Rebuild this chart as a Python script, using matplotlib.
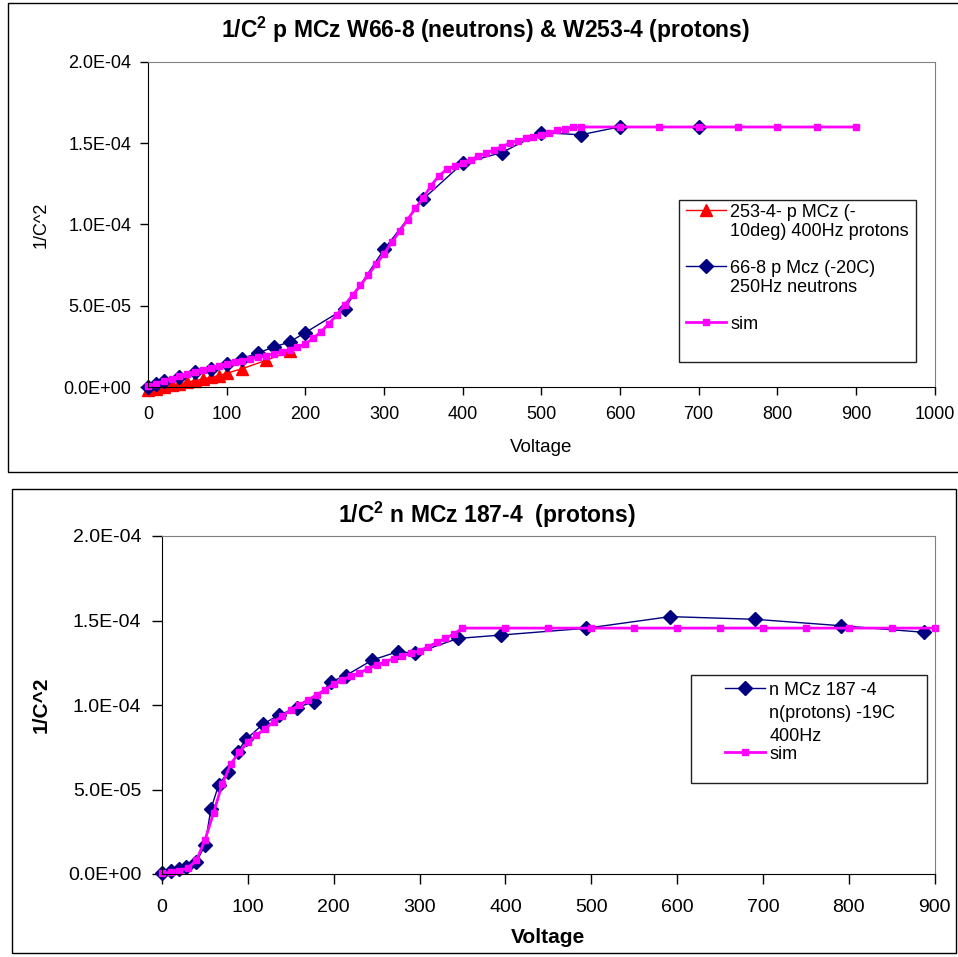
import numpy as np
import matplotlib
matplotlib.use('Agg')
import matplotlib.pyplot as plt
from matplotlib.patches import Rectangle
from matplotlib.offsetbox import HPacker
from matplotlib.ticker import FuncFormatter, MultipleLocator

plt.rcParams['font.family'] = ['Liberation Sans', 'DejaVu Sans']
plt.rcParams['mathtext.fontset'] = 'custom'
plt.rcParams['mathtext.rm'] = 'Liberation Sans'
plt.rcParams['mathtext.bf'] = 'Liberation Sans:bold'

W, H = 958, 957

# ---- top chart: p MCz W66-8 (neutrons) & W253-4 (protons)
prot_v = [0, 10, 20, 30, 40, 50, 60, 70, 80, 90, 100, 120, 150, 180]
prot_c2 = [-2e-6, -1e-6, 0.0, 1e-6, 2e-6, 3e-6, 4e-6, 5e-6, 6e-6, 7e-6,
           8.5e-6, 1.13e-5, 1.64e-5, 2.2e-5]

neut_v = [0, 10, 20, 40, 60, 80, 100, 120, 140, 160, 180, 200, 250, 300,
          350, 400, 450, 500, 550, 600, 700]
neut_c2 = [0.0, 2.1e-6, 3.5e-6, 6.2e-6, 9.2e-6, 1.13e-5, 1.44e-5, 1.75e-5,
           2.1e-5, 2.46e-5, 2.77e-5, 3.35e-5, 4.82e-5, 8.47e-5, 1.157e-4,
           1.377e-4, 1.443e-4, 1.566e-4, 1.552e-4, 1.601e-4, 1.601e-4]

sim1_v = [0, 10, 20, 30, 40, 50, 60, 70, 80, 90, 100, 110, 120, 130, 140,
          150, 160, 170, 180, 190, 200, 210, 220, 230, 240, 250, 260, 270,
          280, 290, 300, 310, 320, 330, 340, 350, 360, 370, 380, 390, 400,
          410, 420, 430, 440, 450, 460, 470, 480, 490, 500, 510, 520, 530,
          540, 550, 600, 650, 700, 750, 800, 850, 900]
sim1_c2 = [0.5e-6, 2.0e-6, 3.5e-6, 5.0e-6, 6.5e-6, 8.0e-6, 9.3e-6, 1.05e-5,
           1.18e-5, 1.31e-5, 1.43e-5, 1.53e-5, 1.63e-5, 1.73e-5, 1.83e-5,
           1.93e-5, 2.04e-5, 2.16e-5, 2.30e-5, 2.45e-5, 2.65e-5, 3.0e-5,
           3.4e-5, 3.9e-5, 4.45e-5, 5.05e-5, 5.65e-5, 6.25e-5, 6.9e-5,
           7.55e-5, 8.2e-5, 8.9e-5, 9.6e-5, 1.03e-4, 1.10e-4, 1.165e-4,
           1.24e-4, 1.30e-4, 1.34e-4, 1.36e-4, 1.38e-4, 1.40e-4, 1.42e-4,
           1.44e-4, 1.46e-4, 1.48e-4, 1.50e-4, 1.515e-4, 1.53e-4, 1.54e-4,
           1.55e-4, 1.565e-4, 1.58e-4, 1.59e-4, 1.60e-4, 1.60e-4, 1.60e-4,
           1.60e-4, 1.60e-4, 1.60e-4, 1.60e-4, 1.60e-4, 1.60e-4]

# ---- bottom chart: n MCz 187-4 (protons)
n187_v = [0, 10, 20, 28, 40, 50, 57, 66, 77, 88, 98, 118, 136, 157, 177,
          197, 214, 245, 275, 295, 345, 395, 494, 592, 691, 791, 888]
n187_c2 = [0.5e-6, 2.0e-6, 3.0e-6, 4.0e-6, 7.0e-6, 1.7e-5, 3.85e-5, 5.27e-5,
           6.05e-5, 7.24e-5, 7.97e-5, 8.88e-5, 9.4e-5, 9.84e-5, 1.02e-4,
           1.138e-4, 1.174e-4, 1.266e-4, 1.316e-4, 1.306e-4, 1.394e-4,
           1.414e-4, 1.454e-4, 1.523e-4, 1.507e-4, 1.469e-4, 1.43e-4]

sim2_v = [0, 10, 20, 30, 40, 50, 60, 70, 80, 90, 100, 110, 120, 130, 140,
          150, 160, 170, 180, 190, 200, 210, 220, 230, 240, 250, 260, 270,
          280, 290, 300, 310, 320, 330, 340, 350, 400, 450, 500, 550, 600,
          650, 700, 750, 800, 850, 900]
sim2_c2 = [0.5e-6, 1.0e-6, 2.0e-6, 3.5e-6, 8.0e-6, 2.0e-5, 3.6e-5, 5.3e-5,
           6.5e-5, 7.2e-5, 7.8e-5, 8.2e-5, 8.6e-5, 9.0e-5, 9.35e-5, 9.7e-5,
           1.0e-4, 1.03e-4, 1.06e-4, 1.09e-4, 1.125e-4, 1.15e-4, 1.17e-4,
           1.19e-4, 1.215e-4, 1.237e-4, 1.255e-4, 1.275e-4, 1.29e-4,
           1.305e-4, 1.32e-4, 1.345e-4, 1.37e-4, 1.395e-4, 1.42e-4, 1.455e-4,
           1.455e-4, 1.455e-4, 1.455e-4, 1.455e-4, 1.455e-4, 1.455e-4,
           1.455e-4, 1.455e-4, 1.455e-4, 1.455e-4, 1.455e-4]

NAVY = '#000080'
MAGENTA = '#FF00FF'
RED = '#FF0000'


def px_box(left, top, right, bottom):
    return [left / W, 1 - bottom / H, (right - left) / W, (bottom - top) / H]


def sci(v, pos):
    return f'{v:.1E}'


def style_axes(ax, xmax, tick_fs, tick_len, xpad, ypad):
    ax.set_xlim(0, xmax)
    ax.set_ylim(0, 2e-4)
    ax.xaxis.set_major_locator(MultipleLocator(100))
    ax.yaxis.set_major_locator(MultipleLocator(5e-5))
    ax.yaxis.set_major_formatter(FuncFormatter(sci))
    for s in ('top', 'right'):
        ax.spines[s].set_color('#808080')
    for s in ('left', 'bottom'):
        ax.spines[s].set_color('black')
    ax.tick_params(direction='out', length=tick_len, width=1, colors='black',
                   labelsize=tick_fs)
    ax.tick_params(axis='x', pad=xpad)
    ax.tick_params(axis='y', pad=ypad)


def legend_box(ax, fig, left, top, right, bottom):
    ax.add_patch(Rectangle((left / W, 1 - bottom / H), (right - left) / W,
                           (bottom - top) / H, transform=fig.transFigure,
                           fill=False, ec='#202020', lw=1, zorder=10,
                           clip_on=False))


fig = plt.figure(figsize=(W / 100, H / 100), dpi=100)

# outer chart frames
fig.patches.append(Rectangle((8 / W, 1 - 472 / H), 960 / W, 469 / H,
                             transform=fig.transFigure, fill=False,
                             ec='black', lw=1))
fig.patches.append(Rectangle((12 / W, 1 - 953 / H), 944 / W, 464 / H,
                             transform=fig.transFigure, fill=False,
                             ec='black', lw=1))

# ---------- top
ax1 = fig.add_axes(px_box(148, 62, 934.6, 387))
ax1.plot(prot_v, prot_c2, color=RED, lw=1, marker='^', ms=9, mec=RED,
         mfc=RED, clip_on=False, label='253-4- p MCz (-\n10deg) 400Hz protons')
ax1.plot(neut_v, neut_c2, color=NAVY, lw=1, marker='D', ms=7, mec=NAVY,
         mfc=NAVY, clip_on=False, label='66-8 p Mcz (-20C)\n250Hz neutrons')
ax1.plot(sim1_v, sim1_c2, color=MAGENTA, lw=2, marker='s', ms=4.8,
         mec=MAGENTA, mfc=MAGENTA, clip_on=False, label='sim')
style_axes(ax1, 1000, 13, 6, 8, 6)
ax1.set_title(r'1/C$^{\mathbf{2}}$ p MCz W66-8 (neutrons) & W253-4 (protons)',
              fontsize=16.5, fontweight='bold', x=0.4297, y=1.073, pad=0,
              va='baseline')
ax1.set_xlabel('Voltage', fontsize=13.5, va='center')
ax1.xaxis.set_label_coords(0.5, -0.185)
ax1.set_ylabel('1/C^2', fontsize=13, va='center', ha='center')
ax1.yaxis.set_label_coords(-0.1354, 0.5)

legend_box(ax1, fig, 678.7, 200, 915.7, 361.7)
leg1 = ax1.legend(loc='upper left', bbox_to_anchor=(686 / W, 1 - 204 / H),
                  bbox_transform=fig.transFigure, frameon=False, fontsize=13,
                  handlelength=2.2, handletextpad=0.25, borderpad=0,
                  borderaxespad=0, labelspacing=1.1)
for t in leg1.get_texts():
    t.set_linespacing(1.15)
for box in leg1.findobj(HPacker):
    box.align = 'top'

# ---------- bottom
ax2 = fig.add_axes(px_box(162, 536, 934.6, 874))
ax2.plot(n187_v, n187_c2, color=NAVY, lw=1, marker='D', ms=7, mec=NAVY,
         mfc=NAVY, clip_on=False, label='n MCz 187 -4\nn(protons) -19C\n400Hz')
ax2.plot(sim2_v, sim2_c2, color=MAGENTA, lw=2, marker='s', ms=4.8,
         mec=MAGENTA, mfc=MAGENTA, clip_on=False, label='sim')
style_axes(ax2, 900, 14, 7, 11, 8)
ax2.set_title(r'1/C$^{\mathbf{2}}$ n MCz 187-4  (protons)',
              fontsize=16.5, fontweight='bold', x=0.42, y=1.0376, pad=0,
              va='baseline')
ax2.set_xlabel('Voltage', fontsize=15, fontweight='bold', va='center')
ax2.xaxis.set_label_coords(0.5, -0.1864)
ax2.set_ylabel('1/C^2', fontsize=15, fontweight='bold', va='center',
               ha='center')
ax2.yaxis.set_label_coords(-0.156, 0.5)

legend_box(ax2, fig, 690.7, 675, 926.7, 783.3)
leg2 = ax2.legend(loc='upper left', bbox_to_anchor=(725 / W, 1 - 682 / H),
                  bbox_transform=fig.transFigure, frameon=False, fontsize=13,
                  handlelength=2.2, handletextpad=0.25, borderpad=0,
                  borderaxespad=0, labelspacing=0.05)
for t in leg2.get_texts():
    t.set_linespacing(1.45)
for box in leg2.findobj(HPacker):
    box.align = 'top'

fig.savefig('out.png', dpi=100)
